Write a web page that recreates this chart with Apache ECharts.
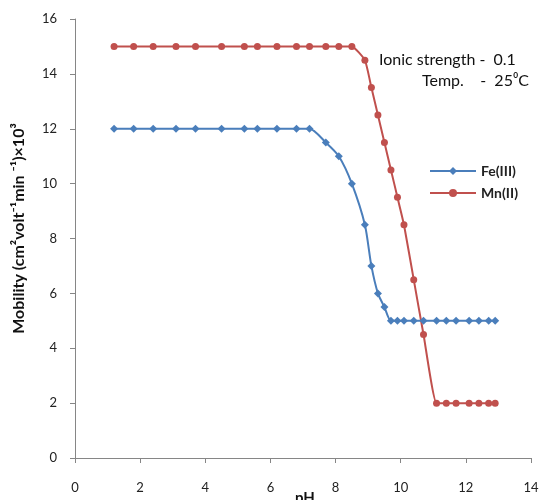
<!DOCTYPE html>
<html>
<head>
<meta charset="utf-8">
<script src="https://cdn.jsdelivr.net/npm/echarts@6/dist/echarts.min.js"></script>
<style>
    body{ margin:0; background:#fff; }
    #chart{ width:541px; height:500px; }
</style>
</head>
<body>
<div id="chart"></div>
<script>
// pH values
var fePH = [1.2,1.8,2.4,3.1,3.7,4.5,5.2,5.6,6.2,6.8,7.2,7.7,8.1,8.5,8.9,9.1,9.3,9.5,9.7,9.9,10.1,10.4,10.7,11.1,11.4,11.7,12.1,12.4,12.7,12.9];
var feMob = [12,12,12,12,12,12,12,12,12,12,12,11.5,11,10,8.5,7,6,5.5,5,5,5,5,5,5,5,5,5,5,5,5];
var mnPH = [1.2,1.8,2.4,3.1,3.7,4.5,5.2,5.6,6.2,6.8,7.2,7.7,8.1,8.5,8.9,9.1,9.3,9.5,9.7,9.9,10.1,10.4,10.7,11.1,11.4,11.7,12.1,12.4,12.7,12.9];
var mnMob = [15,15,15,15,15,15,15,15,15,15,15,15,15,15,14.5,13.5,12.5,11.5,10.5,9.5,8.5,6.5,4.5,2,2,2,2,2,2,2];
var seriesNames = ['Fe(III)','Mn(II)'];
var noteLines = ['Ionic strength -  0.1','Temp.    -  25\u2070C'];

function pairs(xs, ys){
    var out = [];
    for (var i = 0; i < xs.length; i++) out.push([xs[i], ys[i]]);
    return out;
}

var font = 'Lato, "Liberation Sans", sans-serif';
var chart = echarts.init(document.getElementById('chart'));
var option = {
    animation:false,
    textStyle:{ fontFamily:font },
    grid:{ left:75, right:10, top:19, bottom:42, containLabel:false, outerBoundsMode:'none' },
    legend:{
        orient:'vertical',
        left:424,
        top:159,
        itemWidth:46,
        itemHeight:10,
        itemGap:8,
        data:seriesNames,
        textStyle:{ fontSize:14, fontWeight:'bold', color:'#222', fontFamily:font }
    },
    xAxis:{
        type:'value',
        min:0, max:14, interval:2,
        name:'pH',
        nameLocation:'middle',
        nameGap:33,
        nameMoveOverlap:false,
        nameTextStyle:{ fontSize:15, fontWeight:'bold', color:'#111', padding:[0,0,0,4] },
        axisLine:{ show:true, lineStyle:{ color:'#868686' } },
        axisTick:{ show:true, length:5, lineStyle:{ color:'#868686' } },
        axisLabel:{ margin:23, fontSize:13, color:'#222' },
        splitLine:{ show:false }
    },
    yAxis:{
        type:'value',
        min:0, max:16, interval:2,
        name:'Mobility (cm\u00b2volt\u207b\u00b9min \u207b\u00b9)\u00d710\u00b3',
        nameLocation:'middle',
        nameGap:48,
        nameRotate:90,
        nameMoveOverlap:false,
        nameTextStyle:{ fontSize:16, fontWeight:'bold', color:'#111', padding:[0,0,0,20] },
        axisLine:{ show:true, lineStyle:{ color:'#868686' } },
        axisTick:{ show:true, length:5, lineStyle:{ color:'#868686' } },
        axisLabel:{ margin:18, fontSize:13, color:'#222' },
        splitLine:{ show:false }
    },
    graphic:[
        { type:'text', left:379, top:52, style:{ text:noteLines[0], font:'16px ' + font, fill:'#111' } },
        { type:'text', left:422, top:73, style:{ text:noteLines[1], font:'16px ' + font, fill:'#111' } }
    ],
    series:[
        {
            name:seriesNames[0],
            type:'line',
            smooth:0.25,
            symbol:'diamond',
            symbolSize:8,
            itemStyle:{ color:'#4a7ebb' },
            lineStyle:{ color:'#4a7ebb', width:2 },
            data:pairs(fePH, feMob)
        },
        {
            name:seriesNames[1],
            type:'line',
            smooth:0.15,
            symbol:'circle',
            symbolSize:7,
            itemStyle:{ color:'#c0504d' },
            lineStyle:{ color:'#c0504d', width:2 },
            data:pairs(mnPH, mnMob)
        }
    ]
};
chart.setOption(option);
</script>
</body>
</html>
